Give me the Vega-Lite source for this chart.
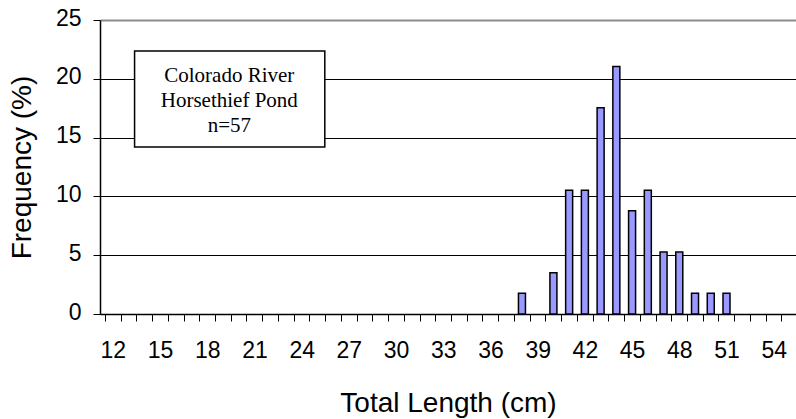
{
  "$schema": "https://vega.github.io/schema/vega-lite/v6.json",
  "width": 696,
  "height": 294,
  "autosize": {"type": "none"},
  "padding": {"left": 100, "top": 20, "right": 0, "bottom": 105},
  "background": "white",
  "config": {
    "view": {"stroke": null},
    "axis": {"labelFont": "Liberation Sans", "titleFont": "Liberation Sans", "labelColor": "black", "titleColor": "black", "titleFontWeight": "normal"}
  },
  "layer": [
    {
      "data": {"values": [
        {"length": 38, "freq": 1.754},
        {"length": 40, "freq": 3.509},
        {"length": 41, "freq": 10.526},
        {"length": 42, "freq": 10.526},
        {"length": 43, "freq": 17.544},
        {"length": 44, "freq": 21.053},
        {"length": 45, "freq": 8.772},
        {"length": 46, "freq": 10.526},
        {"length": 47, "freq": 5.263},
        {"length": 48, "freq": 5.263},
        {"length": 49, "freq": 1.754},
        {"length": 50, "freq": 1.754},
        {"length": 51, "freq": 1.754}
      ]},
      "mark": {"type": "bar", "width": 7, "fill": "#9999FF", "stroke": "black", "strokeWidth": 1.5},
      "encoding": {
        "x": {
          "field": "length", "type": "quantitative",
          "scale": {"domain": [11.5, 55.1], "nice": false, "zero": false},
          "axis": {
            "title": "Total Length (cm)",
            "titleFontSize": 28,
            "titleY": 89,
            "titleBaseline": "middle",
            "values": [12, 13, 14, 15, 16, 17, 18, 19, 20, 21, 22, 23, 24, 25, 26, 27, 28, 29, 30, 31, 32, 33, 34, 35, 36, 37, 38, 39, 40, 41, 42, 43, 44, 45, 46, 47, 48, 49, 50, 51, 52, 53, 54, 55],
            "labelExpr": "(datum.value - 12) % 3 === 0 ? datum.label : ''",
            "labelOverlap": false,
            "labelFontSize": 23,
            "labelPadding": 18,
            "labelFlush": false,
            "tickOffset": -8,
            "labelOffset": 8,
            "grid": false,
            "domainColor": "black",
            "domainWidth": 1.5,
            "tickColor": "black",
            "tickSize": 7,
            "tickWidth": 1
          }
        },
        "y": {
          "field": "freq", "type": "quantitative",
          "scale": {"domain": [0, 25], "nice": false},
          "axis": {
            "title": "Frequency (%)",
            "titleFontSize": 28,
            "titleX": -78,
            "titleBaseline": "middle",
            "values": [0, 5, 10, 15, 20, 25],
            "labelFontSize": 23,
            "labelPadding": 12,
            "labelFlush": false,
            "labelOffset": -2,
            "domainColor": "black",
            "domainWidth": 1.5,
            "tickColor": "black",
            "tickSize": 7,
            "grid": true,
            "gridColor": {"condition": {"test": "datum.value === 25", "value": "#8c8c8c"}, "value": "black"},
            "gridWidth": {"condition": {"test": "datum.value === 25", "value": 2}, "value": 1},
            "gridOpacity": 1
          }
        }
      }
    },
    {
      "data": {"values": [{"label": "box"}]},
      "mark": {"type": "rect", "fill": "white", "stroke": "black", "strokeWidth": 1.5},
      "encoding": {
        "x": {
          "datum": 13.38, "type": "quantitative",
          "axis": {
            "title": "Total Length (cm)",
            "titleFontSize": 28,
            "titleY": 89,
            "titleBaseline": "middle",
            "values": [12, 13, 14, 15, 16, 17, 18, 19, 20, 21, 22, 23, 24, 25, 26, 27, 28, 29, 30, 31, 32, 33, 34, 35, 36, 37, 38, 39, 40, 41, 42, 43, 44, 45, 46, 47, 48, 49, 50, 51, 52, 53, 54, 55],
            "labelExpr": "(datum.value - 12) % 3 === 0 ? datum.label : ''",
            "labelOverlap": false,
            "labelFontSize": 23,
            "labelPadding": 18,
            "labelFlush": false,
            "tickOffset": -8,
            "labelOffset": 8,
            "grid": false,
            "domainColor": "black",
            "domainWidth": 1.5,
            "tickColor": "black",
            "tickSize": 7,
            "tickWidth": 1
          }
        },
        "x2": {"datum": 25.47},
        "y": {
          "datum": 22.37, "type": "quantitative",
          "axis": {
            "title": "Frequency (%)",
            "titleFontSize": 28,
            "titleX": -78,
            "titleBaseline": "middle",
            "values": [0, 5, 10, 15, 20, 25],
            "labelFontSize": 23,
            "labelPadding": 12,
            "labelFlush": false,
            "labelOffset": -2,
            "domainColor": "black",
            "domainWidth": 1.5,
            "tickColor": "black",
            "tickSize": 7,
            "grid": true,
            "gridColor": {"condition": {"test": "datum.value === 25", "value": "#8c8c8c"}, "value": "black"},
            "gridWidth": {"condition": {"test": "datum.value === 25", "value": 2}, "value": 1},
            "gridOpacity": 1
          }
        },
        "y2": {"datum": 14.21}
      }
    },
    {
      "data": {"values": [{"label": "box"}]},
      "mark": {"type": "text", "text": ["Colorado River", "Horsethief Pond", "n=57"], "font": "Liberation Serif", "fontSize": 21, "lineHeight": 25, "baseline": "middle", "align": "center", "color": "black"},
      "encoding": {
        "x": {
          "datum": 19.4, "type": "quantitative",
          "axis": {
            "title": "Total Length (cm)",
            "titleFontSize": 28,
            "titleY": 89,
            "titleBaseline": "middle",
            "values": [12, 13, 14, 15, 16, 17, 18, 19, 20, 21, 22, 23, 24, 25, 26, 27, 28, 29, 30, 31, 32, 33, 34, 35, 36, 37, 38, 39, 40, 41, 42, 43, 44, 45, 46, 47, 48, 49, 50, 51, 52, 53, 54, 55],
            "labelExpr": "(datum.value - 12) % 3 === 0 ? datum.label : ''",
            "labelOverlap": false,
            "labelFontSize": 23,
            "labelPadding": 18,
            "labelFlush": false,
            "tickOffset": -8,
            "labelOffset": 8,
            "grid": false,
            "domainColor": "black",
            "domainWidth": 1.5,
            "tickColor": "black",
            "tickSize": 7,
            "tickWidth": 1
          }
        },
        "y": {
          "datum": 20.24, "type": "quantitative",
          "axis": {
            "title": "Frequency (%)",
            "titleFontSize": 28,
            "titleX": -78,
            "titleBaseline": "middle",
            "values": [0, 5, 10, 15, 20, 25],
            "labelFontSize": 23,
            "labelPadding": 12,
            "labelFlush": false,
            "labelOffset": -2,
            "domainColor": "black",
            "domainWidth": 1.5,
            "tickColor": "black",
            "tickSize": 7,
            "grid": true,
            "gridColor": {"condition": {"test": "datum.value === 25", "value": "#8c8c8c"}, "value": "black"},
            "gridWidth": {"condition": {"test": "datum.value === 25", "value": 2}, "value": 1},
            "gridOpacity": 1
          }
        }
      }
    }
  ]
}
